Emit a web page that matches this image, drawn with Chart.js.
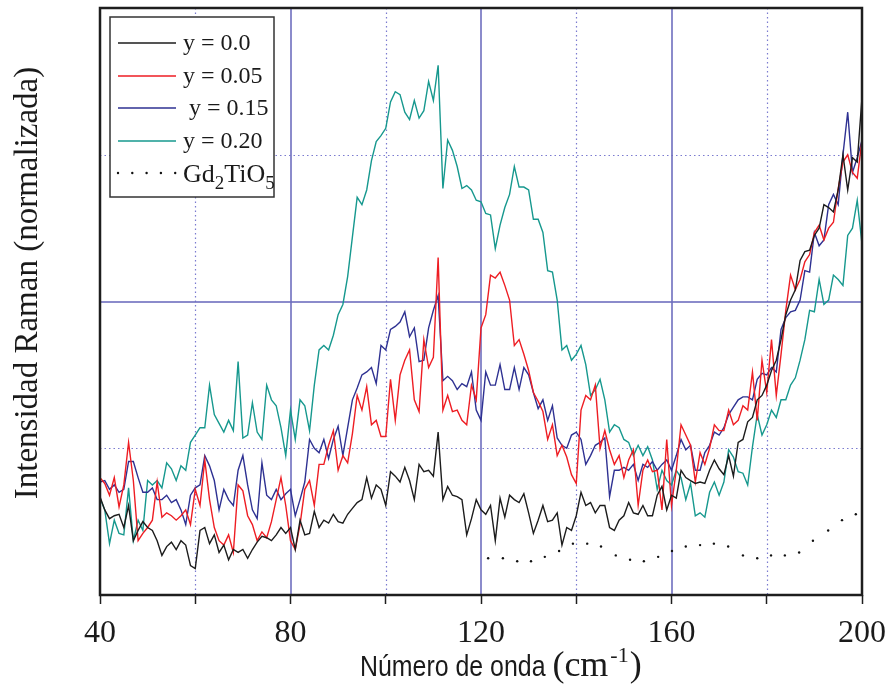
<!DOCTYPE html>
<html>
<head>
<meta charset="utf-8">
<script src="https://cdn.jsdelivr.net/npm/chart.js@4.4.1/dist/chart.umd.min.js"></script>
<style>
  html, body { margin: 0; padding: 0; background: #fff; }
  #ramanChart { display: block; }
</style>
</head>
<body>
<canvas id="ramanChart" width="885" height="684"></canvas>
<script>
// Raman spectra, wavenumber in cm-1
const waveNumbers = [
  40, 41, 42, 43, 44, 45, 46, 47, 48, 49, 50, 51, 52, 53, 54, 55, 56, 57, 58, 59,
  60, 61, 62, 63, 64, 65, 66, 67, 68, 69, 70, 71, 72, 73, 74, 75, 76, 77, 78, 79,
  80, 81, 82, 83, 84, 85, 86, 87, 88, 89, 90, 91, 92, 93, 94, 95, 96, 97, 98, 99,
  100, 101, 102, 103, 104, 105, 106, 107, 108, 109, 110, 111, 112, 113, 114, 115, 116, 117, 118, 119,
  120, 121, 122, 123, 124, 125, 126, 127, 128, 129, 130, 131, 132, 133, 134, 135, 136, 137, 138, 139,
  140, 141, 142, 143, 144, 145, 146, 147, 148, 149, 150, 151, 152, 153, 154, 155, 156, 157, 158, 159,
  160, 161, 162, 163, 164, 165, 166, 167, 168, 169, 170, 171, 172, 173, 174, 175, 176, 177, 178, 179,
  180, 181, 182, 183, 184, 185, 186, 187, 188, 189, 190, 191, 192, 193, 194, 195, 196, 197, 198, 199,
  200
];

const ramanY000 = [
  0.67, 0.58, 0.52, 0.54, 0.55, 0.46, 0.61, 0.37, 0.44, 0.50,
  0.46, 0.44, 0.37, 0.27, 0.33, 0.36, 0.31, 0.37, 0.34, 0.20,
  0.18, 0.44, 0.46, 0.35, 0.41, 0.29, 0.34, 0.24, 0.31, 0.29,
  0.31, 0.25, 0.31, 0.36, 0.40, 0.39, 0.37, 0.41, 0.46, 0.42,
  0.46, 0.31, 0.51, 0.41, 0.42, 0.57, 0.46, 0.51, 0.49, 0.55,
  0.50, 0.49, 0.55, 0.59, 0.63, 0.65, 0.80, 0.66, 0.75, 0.72,
  0.61, 0.84, 0.81, 0.77, 0.87, 0.78, 0.65, 0.89, 0.84, 0.85,
  0.81, 1.11, 0.65, 0.74, 0.68, 0.67, 0.65, 0.41, 0.52, 0.65,
  0.58, 0.55, 0.61, 0.37, 0.66, 0.53, 0.68, 0.65, 0.63, 0.69,
  0.56, 0.42, 0.51, 0.61, 0.50, 0.51, 0.56, 0.34, 0.46, 0.44,
  0.54, 0.70, 0.61, 0.63, 0.56, 0.61, 0.61, 0.46, 0.44, 0.51,
  0.54, 0.63, 0.56, 0.55, 0.61, 0.54, 0.54, 0.68, 0.74, 0.58,
  0.68, 0.66, 0.85, 0.80, 0.78, 0.76, 0.77, 0.76, 0.85, 0.92,
  0.86, 0.82, 0.95, 0.81, 1.04, 1.06, 1.18, 1.21, 1.33, 1.36,
  1.43, 1.53, 1.60, 1.74, 1.91, 2.01, 2.08, 2.28, 2.34, 2.35,
  2.45, 2.50, 2.66, 2.64, 2.61, 2.76, 3.00, 2.76, 2.98, 2.95,
  3.39
];

const ramanY005 = [
  0.80, 0.76, 0.68, 0.80, 0.60, 0.75, 1.04, 0.78, 0.37, 0.42,
  0.46, 0.51, 0.77, 0.53, 0.56, 0.54, 0.51, 0.54, 0.58, 0.48,
  0.72, 0.61, 0.92, 0.65, 0.46, 0.37, 0.34, 0.41, 0.29, 0.75,
  0.71, 0.54, 0.48, 0.37, 0.43, 0.39, 0.50, 0.65, 0.80, 0.61,
  0.37, 0.31, 0.48, 0.72, 0.78, 0.61, 0.89, 0.89, 1.02, 1.12,
  0.85, 0.95, 0.90, 1.10, 1.36, 1.26, 1.42, 1.16, 1.19, 1.08,
  1.08, 1.47, 1.19, 1.50, 1.60, 1.67, 1.33, 1.25, 1.74, 1.55,
  1.62, 2.30, 1.26, 1.36, 1.25, 1.26, 1.19, 1.16, 1.43, 1.33,
  1.82, 1.91, 2.18, 2.16, 2.20, 2.11, 2.01, 1.70, 1.74, 1.64,
  1.53, 1.38, 1.32, 1.25, 1.06, 1.16, 0.95, 1.02, 0.94, 0.82,
  0.76, 1.26, 1.36, 1.33, 1.43, 1.00, 1.12, 0.99, 0.89, 0.95,
  0.80, 0.92, 0.99, 0.61, 0.85, 0.92, 0.84, 0.85, 0.58, 1.06,
  0.61, 0.85, 1.16, 1.09, 1.02, 0.77, 0.97, 0.89, 1.00, 1.16,
  1.12, 1.12, 1.26, 1.16, 1.19, 1.29, 1.26, 1.52, 1.19, 1.60,
  1.38, 1.74, 1.36, 1.64, 1.94, 2.18, 2.08, 2.15, 2.27, 2.32,
  2.47, 2.52, 2.42, 2.50, 2.54, 2.77, 2.95, 3.00, 2.88, 2.84,
  3.10
];

const ramanY015 = [
  0.77, 0.78, 0.72, 0.75, 0.70, 0.72, 0.91, 0.91, 0.80, 0.70,
  0.70, 0.73, 0.65, 0.65, 0.68, 0.63, 0.65, 0.58, 0.48, 0.68,
  0.73, 0.75, 0.95, 0.88, 0.78, 0.58, 0.72, 0.65, 0.61, 0.85,
  0.95, 0.75, 0.58, 0.52, 0.90, 0.68, 0.65, 0.72, 0.65, 0.69,
  0.72, 0.54, 0.65, 0.77, 1.06, 1.00, 0.97, 1.06, 0.93, 1.06,
  1.15, 0.95, 1.14, 1.33, 1.41, 1.50, 1.52, 1.55, 1.44, 1.70,
  1.67, 1.81, 1.83, 1.86, 1.93, 1.76, 1.82, 1.59, 1.60, 1.82,
  1.94, 2.04, 1.46, 1.49, 1.46, 1.40, 1.44, 1.42, 1.52, 1.26,
  1.19, 1.52, 1.43, 1.43, 1.57, 1.40, 1.40, 1.55, 1.40, 1.55,
  1.50, 1.38, 1.27, 1.33, 1.19, 1.29, 1.07, 1.02, 1.00, 1.09,
  1.11, 1.06, 0.89, 0.95, 1.02, 1.04, 1.07, 0.67, 0.85, 0.85,
  0.87, 0.85, 0.89, 0.78, 0.89, 0.87, 0.91, 0.85, 0.89, 0.92,
  0.85, 0.95, 1.06, 0.99, 1.02, 0.85, 0.85, 0.97, 1.02, 1.11,
  1.09, 1.14, 1.23, 1.28, 1.33, 1.35, 1.35, 1.33, 1.47, 1.51,
  1.50, 1.55, 1.52, 1.81, 1.89, 1.93, 1.94, 2.01, 2.21, 2.20,
  2.47, 2.38, 2.42, 2.66, 2.73, 2.66, 3.00, 3.29, 2.88, 2.98,
  3.10
];

const ramanY020 = [
  0.66, 0.58, 0.35, 0.51, 0.42, 0.41, 0.73, 0.37, 0.51, 0.44,
  0.78, 0.75, 0.78, 0.73, 0.90, 0.86, 0.78, 0.88, 0.85, 1.04,
  1.09, 1.14, 1.14, 1.43, 1.23, 1.17, 1.11, 1.19, 1.12, 1.59,
  1.07, 1.09, 1.31, 1.11, 1.06, 1.43, 1.33, 1.29, 1.14, 0.95,
  1.26, 1.06, 1.33, 1.29, 1.12, 1.43, 1.67, 1.70, 1.67, 1.77,
  1.91, 1.98, 2.17, 2.44, 2.71, 2.66, 2.76, 2.96, 3.09, 3.13,
  3.18, 3.36, 3.43, 3.41, 3.29, 3.24, 3.37, 3.25, 3.30, 3.50,
  3.37, 3.61, 2.77, 3.10, 3.03, 2.92, 2.77, 2.79, 2.76, 2.69,
  2.68, 2.60, 2.59, 2.36, 2.52, 2.64, 2.73, 2.92, 2.78, 2.78,
  2.76, 2.56, 2.56, 2.47, 2.21, 2.20, 2.01, 1.67, 1.70, 1.60,
  1.64, 1.70, 1.57, 1.36, 1.40, 1.47, 1.33, 1.11, 1.16, 1.14,
  1.06, 1.04, 0.95, 1.02, 0.95, 1.01, 0.92, 0.72, 0.85, 0.78,
  0.75, 0.85, 0.80, 0.65, 0.76, 0.54, 0.56, 0.53, 0.70, 0.77,
  0.68, 0.77, 0.99, 0.94, 0.84, 0.83, 0.75, 1.01, 1.23, 1.09,
  1.16, 1.26, 1.21, 1.33, 1.33, 1.43, 1.48, 1.60, 1.74, 1.94,
  1.93, 2.15, 1.98, 2.01, 2.18, 2.15, 2.11, 2.45, 2.50, 2.69,
  2.39
];

// Gd2TiO5 reference, sampled more sparsely
const gdWaveNumbers = [
  121.5, 124.6, 127.6, 130.5, 133.4, 136.4, 139.3, 142.3, 145.2, 148.3,
  151.3, 154.2, 157.2, 160.1, 163.0, 166.0, 168.9, 171.9, 175.0, 178.0,
  180.9, 183.8, 186.8, 189.7, 192.9, 195.8, 198.7
];
const gdValues = [
  0.25, 0.25, 0.23, 0.23, 0.26, 0.30, 0.35, 0.35, 0.33, 0.27,
  0.24, 0.23, 0.26, 0.30, 0.33, 0.34, 0.35, 0.33, 0.27, 0.25,
  0.27, 0.27, 0.29, 0.37, 0.44, 0.51, 0.55
];

const seriesLabels = ['y = 0.0', 'y = 0.05', ' y = 0.15', 'y = 0.20'];
const seriesColors = ['#1c1c1c', '#ee1d23', '#2e3192', '#16988e'];
const xTickLabels = [40, 80, 120, 160, 200];
const xMajorGrid = [80, 120, 160];
const xMinorGrid = [60, 100, 140, 180];
const yMajorGrid = [2];
const yMinorGrid = [1, 3];

const serif = '"Liberation Serif", "Times New Roman", serif';
const sans = '"Liberation Sans", Arial, sans-serif';

function toPoints(xs, ys) {
  return xs.map((x, i) => ({ x: x, y: ys[i] }));
}

const spectra = [ramanY000, ramanY005, ramanY015, ramanY020].map((ys, i) => ({
  label: seriesLabels[i],
  data: toPoints(waveNumbers, ys),
  borderColor: seriesColors[i],
  borderWidth: 1.4,
  pointRadius: 0,
  tension: 0,
  fill: false
}));

spectra.push({
  label: 'Gd2TiO5',
  data: toPoints(gdWaveNumbers, gdValues),
  showLine: false,
  pointRadius: 1.2,
  pointBackgroundColor: '#111',
  pointBorderWidth: 0
});

function strokeLine(ctx, x1, y1, x2, y2) {
  ctx.beginPath();
  ctx.moveTo(x1, y1);
  ctx.lineTo(x2, y2);
  ctx.stroke();
}

// grid, frame, legend box and axis titles
const ramanDecor = {
  id: 'ramanDecor',
  beforeDatasetsDraw(chart) {
    const { ctx, chartArea: a, scales: { x, y } } = chart;
    ctx.save();
    ctx.strokeStyle = 'rgba(100,100,200,0.85)';
    ctx.lineWidth = 1.2;
    ctx.setLineDash([1.5, 3]);
    xMinorGrid.forEach(v => {
      const px = Math.round(x.getPixelForValue(v)) + 0.5;
      strokeLine(ctx, px, a.top, px, a.bottom);
    });
    yMinorGrid.forEach(v => {
      const py = Math.round(y.getPixelForValue(v)) + 0.5;
      strokeLine(ctx, a.left, py, a.right, py);
    });
    ctx.setLineDash([]);
    ctx.strokeStyle = 'rgba(110,110,190,0.8)';
    ctx.lineWidth = 2;
    xMajorGrid.forEach(v => {
      const px = Math.round(x.getPixelForValue(v));
      strokeLine(ctx, px, a.top, px, a.bottom);
    });
    yMajorGrid.forEach(v => {
      const py = Math.round(y.getPixelForValue(v));
      strokeLine(ctx, a.left, py, a.right, py);
    });
    ctx.restore();
  },
  afterDatasetsDraw(chart) {
    const { ctx, chartArea: a } = chart;
    ctx.save();
    ctx.strokeStyle = '#1e1e1e';
    ctx.lineWidth = 2.5;
    ctx.strokeRect(a.left, a.top, a.right - a.left, a.bottom - a.top);
    ctx.restore();
  },
  afterDraw(chart) {
    const ctx = chart.ctx;

    // legend
    ctx.save();
    ctx.fillStyle = '#fff';
    ctx.fillRect(110, 17, 164, 180);
    ctx.strokeStyle = '#333';
    ctx.lineWidth = 1.5;
    ctx.strokeRect(110, 17, 164, 180);
    const rows = [43, 76, 108, 141, 173];
    ctx.textBaseline = 'middle';
    ctx.fillStyle = '#1a1a1a';
    seriesLabels.forEach((label, i) => {
      ctx.strokeStyle = seriesColors[i];
      ctx.lineWidth = 1.6;
      strokeLine(ctx, 118, rows[i], 176, rows[i]);
      ctx.font = '24px ' + serif;
      ctx.fillText(label, 183, rows[i] + 1);
    });
    ctx.fillStyle = '#111';
    for (let k = 0; k < 5; k++) {
      ctx.beginPath();
      ctx.arc(118 + k * 14.3, rows[4], 1.2, 0, Math.PI * 2);
      ctx.fill();
    }
    ctx.fillStyle = '#1a1a1a';
    ctx.textBaseline = 'alphabetic';
    let lx = 183;
    const lb = rows[4] + 9;
    const parts = [['Gd', 26, 0], ['2', 19, 7], ['TiO', 26, 0], ['5', 19, 7]];
    parts.forEach(([t, size, drop]) => {
      ctx.font = size + 'px ' + serif;
      ctx.fillText(t, lx, lb + drop);
      lx += ctx.measureText(t).width;
    });
    ctx.restore();

    // y title
    ctx.save();
    ctx.fillStyle = '#1a1a1a';
    ctx.translate(28, 283);
    ctx.rotate(-Math.PI / 2);
    ctx.font = '33px ' + serif;
    ctx.textAlign = 'center';
    ctx.textBaseline = 'middle';
    ctx.fillText('Intensidad Raman (normalizada)', 0, 0);
    ctx.restore();

    // x title
    ctx.save();
    ctx.fillStyle = '#1a1a1a';
    ctx.textBaseline = 'alphabetic';
    const base = 676;
    let tx = 360;
    ctx.font = '30px ' + sans;
    const head = 'Número de onda ';
    ctx.save();
    ctx.translate(tx, base);
    ctx.scale(0.83, 1);
    ctx.fillText(head, 0, 0);
    ctx.restore();
    tx += ctx.measureText(head).width * 0.83;
    ctx.font = '36px ' + serif;
    ctx.fillText('(cm', tx, base);
    tx += ctx.measureText('(cm').width + 2;
    ctx.font = '22px ' + serif;
    ctx.fillText('-1', tx, base - 14);
    tx += ctx.measureText('-1').width + 1;
    ctx.font = '36px ' + serif;
    ctx.fillText(')', tx, base);
    ctx.restore();
  }
};

new Chart(document.getElementById('ramanChart'), {
  type: 'line',
  data: { datasets: spectra },
  options: {
    responsive: false,
    animation: false,
    devicePixelRatio: 1,
    layout: { padding: { left: 0, right: 23, top: 8, bottom: 0 } },
    plugins: {
      legend: { display: false },
      tooltip: { enabled: false }
    },
    scales: {
      x: {
        type: 'linear',
        min: 40,
        max: 200,
        ticks: {
          stepSize: 20,
          autoSkip: false,
          maxRotation: 0,
          padding: 10,
          color: '#1a1a1a',
          font: { family: serif, size: 32 },
          callback: v => xTickLabels.includes(v) ? String(v) : ''
        },
        grid: {
          drawOnChartArea: false,
          drawTicks: true,
          tickLength: 9,
          tickColor: '#1e1e1e',
          tickWidth: 1.5
        },
        border: { display: false },
        afterFit: s => {
          s.height = 89;
          s.paddingLeft = 0;
          s.paddingRight = 0;
        }
      },
      y: {
        min: 0,
        max: 4,
        ticks: { display: false },
        grid: { display: false },
        border: { display: false },
        afterFit: s => { s.width = 100; }
      }
    }
  },
  plugins: [ramanDecor]
});
</script>
</body>
</html>
